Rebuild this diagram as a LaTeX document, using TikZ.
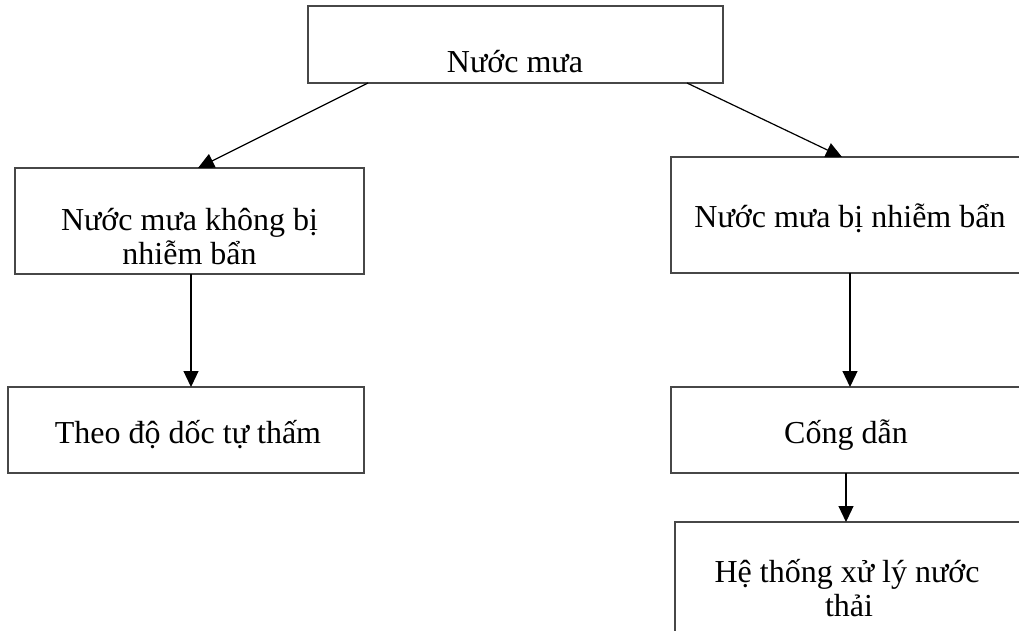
\documentclass[tikz,border=0pt]{standalone}
\usepackage{fontspec}
\setmainfont{Liberation Serif}
\usetikzlibrary{arrows.meta}

\tikzset{
  box/.style={draw=black!72, line width=1.3pt, rectangle, inner sep=0pt, outer sep=0pt},
  lbl/.style={anchor=base, inner sep=0pt, font=\fontsize{32}{37}\selectfont},
  arr/.style={draw=black, line width=1.2pt, -{Triangle[length=16pt,width=15pt]}}
}

\begin{document}
\begin{tikzpicture}[x=1pt, y=-1pt]
  \useasboundingbox (0,0) rectangle (1019,630);
  \clip (0,0) rectangle (1019,630);

  % boxes
  \node[box, minimum width=415pt, minimum height=77pt]  (top)   at (515.5,44.5) {};
  \node[box, minimum width=349pt, minimum height=106pt] (clean) at (189.5,221) {};
  \node[box, minimum width=359pt, minimum height=116pt] (dirty) at (850.5,215) {};
  \node[box, minimum width=356pt, minimum height=86pt]  (seep)  at (186,430) {};
  \node[box, minimum width=359pt, minimum height=86pt]  (drain) at (850.5,430) {};
  \node[box, minimum width=347pt, minimum height=140pt] (treat) at (848.5,592) {};

  % labels
  \node[lbl] (topT)    at (515,72)  {Nước mưa};
  \node[lbl] (cleanT1) at (189.5,230) {Nước mưa không bị};
  \node[lbl] (cleanT2) at (189.5,264) {nhiễm bẩn};
  \node[lbl] (dirtyT)  at (850,227) {Nước mưa bị nhiễm bẩn};
  \node[lbl] (seepT)   at (188,443) {Theo độ dốc tự thấm};
  \node[lbl] (drainT)  at (846,443) {Cống dẫn};
  \node[lbl] (treatT1) at (847,582) {Hệ thống xử lý nước};
  \node[lbl] (treatT2) at (849,616) {thải};

  % connectors
  \draw[arr] ([xshift=60pt]top.south west)   -- ([xshift=183pt]clean.north west);
  \draw[arr] ([xshift=379pt]top.south west)  -- ([xshift=171pt]dirty.north west);
  \draw[arr] ([xshift=176pt]clean.south west) -- ([xshift=183pt]seep.north west);
  \draw[arr] ([xshift=179pt]dirty.south west) -- ([xshift=179pt]drain.north west);
  \draw[arr] ([xshift=175pt]drain.south west) -- ([xshift=171pt]treat.north west);
\end{tikzpicture}
\end{document}
